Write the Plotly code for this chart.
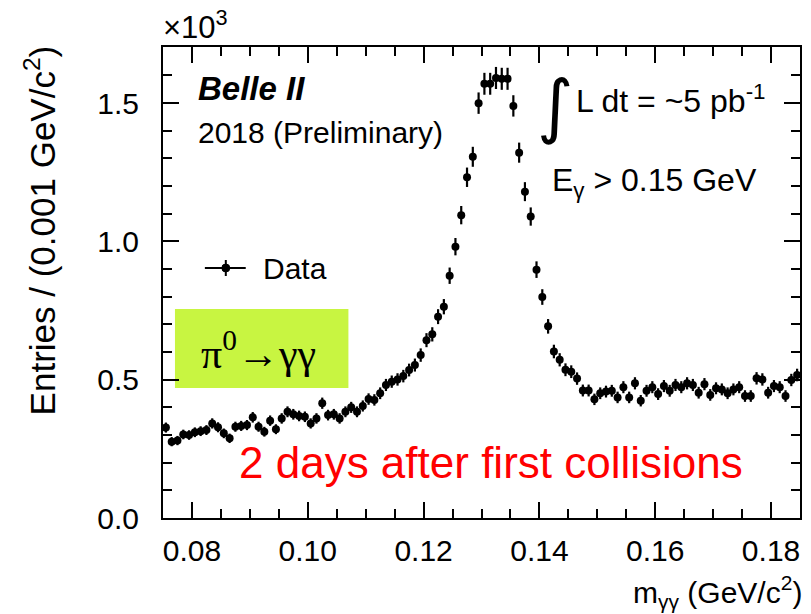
import numpy as np
import plotly.graph_objects as go

# ---------------- data (entries per 0.001 GeV/c^2 bin) ----------------
bin_low = 0.075
bin_width = 0.001
counts = [327, 276, 280, 302, 300, 310, 314, 318, 342, 328,
          306, 288, 330, 333, 336, 364, 330, 312, 352, 321,
          360, 384, 375, 369, 366, 342, 360, 415, 372, 375,
          360, 384, 400, 384, 405, 430, 427, 451, 481, 493,
          501, 513, 535, 553, 589, 643, 664, 728, 764, 876,
          981, 1095, 1232, 1306, 1500, 1570, 1570, 1591, 1588, 1588,
          1490, 1321, 1180, 1090, 898, 799, 693, 602, 572, 536,
          529, 504, 461, 461, 429, 451, 457, 460, 436, 473,
          436, 487, 424, 460, 473, 448, 477, 460, 481, 473,
          487, 481, 453, 484, 445, 469, 465, 451, 465, 473,
          441, 441, 505, 501, 453, 477, 473, 441, 499, 517]
x_ticks = [0.08, 0.10, 0.12, 0.14, 0.16, 0.18]
y_ticks = [0.0, 0.5, 1.0, 1.5]

counts = np.array(counts, dtype=float)
centers = bin_low + bin_width * (np.arange(len(counts)) + 0.5)
scale = 1000.0
y = counts / scale
err = np.sqrt(counts) / scale

# ---------------- figure geometry ----------------
W, H = 811, 614
L, R, T, B = 163, 802, 47, 518


def px(xp):
    return (xp - L) / (R - L)


def py(yp):
    return (B - yp) / (B - T)


FONT = "Liberation Sans"

fig = go.Figure()
fig.add_trace(go.Scatter(
    x=centers, y=y, mode="markers",
    marker=dict(color="black", size=8, symbol="circle"),
    error_y=dict(type="data", array=err, color="black", thickness=2.2, width=0),
    error_x=dict(type="constant", value=bin_width / 2, color="black", thickness=2.2, width=0),
    showlegend=False, hoverinfo="x+y",
))

axis_common = dict(
    showline=True, linecolor="black", linewidth=2, mirror="allticks",
    ticks="inside", tickwidth=2, tickcolor="black",
    showgrid=False, zeroline=False,
    tickfont=dict(family=FONT, size=30, color="black"),
)

fig.update_layout(
    width=W, height=H,
    margin=dict(l=L, r=W - R, t=T, b=H - B, pad=0),
    paper_bgcolor="white", plot_bgcolor="rgba(0,0,0,0)",
    xaxis=dict(range=[0.075, 0.185], tickvals=x_ticks,
               ticktext=[f"{v:.2f}" for v in x_ticks], ticklen=16,
               minor=dict(ticks="inside", ticklen=9, dtick=0.005, tick0=0.075,
                          tickwidth=2, tickcolor="black", showgrid=False),
               ticklabelstandoff=5, **axis_common),
    yaxis=dict(range=[0, 1.703], tickvals=y_ticks,
               ticktext=[f"{v:.1f}" for v in y_ticks], ticklen=16,
               minor=dict(ticks="inside", ticklen=9, dtick=0.1, tick0=0.0,
                          tickwidth=2, tickcolor="black", showgrid=False),
               ticklabelstandoff=16, **axis_common),
    font=dict(family=FONT, color="black"),
)

ann = []


def add_text(text, x, y, size, xanchor="left", yanchor="middle", color="black",
             family=FONT, angle=0):
    ann.append(dict(text=text, x=px(x), y=py(y), xref="paper", yref="paper",
                    xanchor=xanchor, yanchor=yanchor, showarrow=False,
                    textangle=angle,
                    font=dict(family=family, size=size, color=color)))


add_text("×10<sup>3</sup>", 161, 47, 31, yanchor="bottom")
add_text("<b><i>Belle II</i></b>", 196, 88, 33)
add_text("2018 (Preliminary)", 196, 132, 30)
add_text("∫", 556, 106, 70, xanchor="center", family="DejaVu Sans")
add_text("L dt = ~5 pb<sup>-1</sup>", 575, 99, 32)
add_text("E<sub>γ</sub> > 0.15 GeV", 551, 182, 32)
add_text("Data", 261, 268, 30)
add_text("π<sup>0</sup>→γγ", 259, 350, 42, xanchor="center", family="Liberation Serif")
add_text("2 days after first collisions", 492, 462, 44, xanchor="center", color="red")
add_text("Entries / (0.001 GeV/c<sup>2</sup>)", 40, 43, 35, xanchor="center",
         yanchor="top", angle=-90)
add_text("m<sub>γγ</sub> (GeV/c<sup>2</sup>)", 806, 615, 30, xanchor="right",
         yanchor="bottom")

shapes = [
    dict(type="rect", xref="paper", yref="paper", x0=px(175), x1=px(349),
         y0=py(388), y1=py(309), fillcolor="#c8f541", line=dict(width=0), layer="below"),
    dict(type="line", xref="paper", yref="paper", x0=px(205), x1=px(246),
         y0=py(268), y1=py(268), line=dict(color="black", width=2)),
    dict(type="line", xref="paper", yref="paper", x0=px(226), x1=px(226),
         y0=py(260), y1=py(276), line=dict(color="black", width=2)),
    dict(type="circle", xref="paper", yref="paper", x0=px(222), x1=px(230),
         y0=py(272), y1=py(264), fillcolor="black", line=dict(color="black", width=1)),
]

fig.update_layout(annotations=ann, shapes=shapes)
fig.write_html("out.html")
